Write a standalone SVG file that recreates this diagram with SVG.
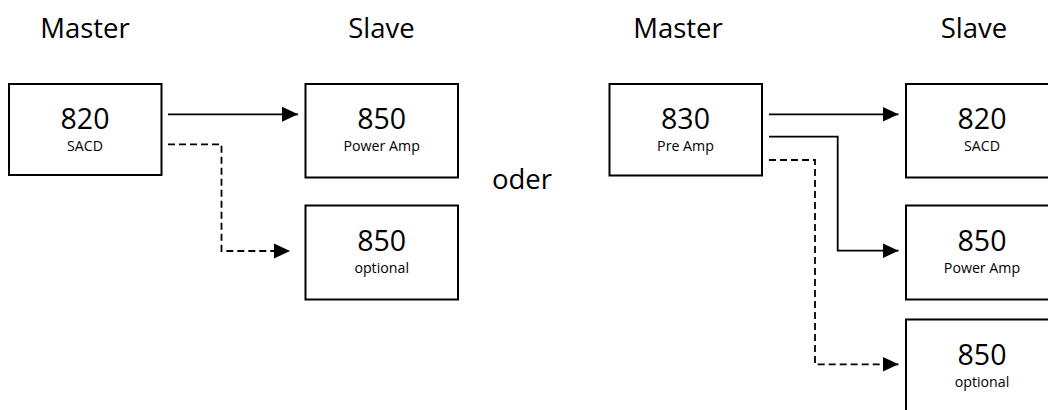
<svg xmlns="http://www.w3.org/2000/svg" width="1048" height="410" viewBox="0 0 1048 410">
<style>
.box{fill:#fff;stroke:#000;stroke-width:2}
.title{font-family:"Open Sans",sans-serif;font-size:27.5px;fill:#000;text-anchor:middle}
.num{font-family:"Open Sans",sans-serif;font-size:28.5px;fill:#000;text-anchor:middle}
.sub{font-family:"Open Sans",sans-serif;font-size:14.2px;fill:#000;text-anchor:middle}
.con{fill:none;stroke:#000;stroke-width:1.8}
.dash{stroke-dasharray:7 4}
</style>
<defs>
<marker id="ah" markerUnits="userSpaceOnUse" markerWidth="16" markerHeight="16" refX="16" refY="7.5" orient="auto" viewBox="0 0 16 15">
<path d="M0,0 L16,7.5 L0,15 Z" fill="#000"/>
</marker>
</defs>
<rect width="1048" height="410" fill="#fff"/>
<text class="title" x="85" y="38">Master</text>
<text class="title" x="381.5" y="38">Slave</text>
<text class="title" x="678" y="38">Master</text>
<text class="title" x="974" y="38">Slave</text>
<text class="title" x="522" y="189">oder</text>
<g id="conn">
<path class="con" d="M168,114.3 H298" marker-end="url(#ah)"/>
<path class="con dash" d="M168,144.3 H221.5 V251 H290" marker-end="url(#ah)"/>
<path class="con" d="M769,114.3 H898.5" marker-end="url(#ah)"/>
<path class="con" d="M769,136.7 H837.7 V250.7 H898.5" marker-end="url(#ah)"/>
<path class="con dash" d="M769,160 H815 V364.3 H898.5" marker-end="url(#ah)"/>
</g>
<g id="n820a">
<rect class="box" x="9" y="84" width="152.5" height="91"/>
<text class="num" x="85" y="129">820</text>
<text class="sub" x="85" y="151">SACD</text>
</g>
<g id="n850a">
<rect class="box" x="305.5" y="84" width="152.5" height="93.5"/>
<text class="num" x="381.7" y="129">850</text>
<text class="sub" x="381.7" y="151">Power Amp</text>
</g>
<g id="n850b">
<rect class="box" x="305.5" y="205.5" width="152.5" height="94"/>
<text class="num" x="381.7" y="250.5">850</text>
<text class="sub" x="381.7" y="272.5">optional</text>
</g>
<g id="n830">
<rect class="box" x="609.5" y="84" width="152.5" height="91.5"/>
<text class="num" x="685.5" y="129">830</text>
<text class="sub" x="685.5" y="151">Pre Amp</text>
</g>
<g id="n820b">
<rect class="box" x="906" y="84" width="152.5" height="93.5"/>
<text class="num" x="982" y="129">820</text>
<text class="sub" x="982" y="151">SACD</text>
</g>
<g id="n850c">
<rect class="box" x="906" y="205.5" width="152.5" height="94"/>
<text class="num" x="982" y="250.5">850</text>
<text class="sub" x="982" y="272.5">Power Amp</text>
</g>
<g id="n850d">
<rect class="box" x="906" y="319.5" width="152.5" height="94"/>
<text class="num" x="982" y="365">850</text>
<text class="sub" x="982" y="387">optional</text>
</g>
</svg>
